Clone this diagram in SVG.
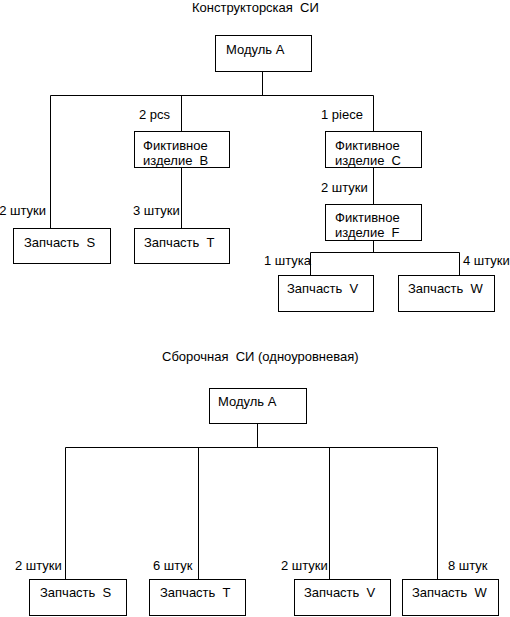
<svg xmlns="http://www.w3.org/2000/svg" width="510" height="617" viewBox="0 0 510 617">
<style>
text{font-family:"Liberation Sans",Arial,sans-serif;font-size:13px;fill:#000;white-space:pre}
.box{fill:#fff;stroke:#000;stroke-width:1}
.ln{fill:none;stroke:#000;stroke-width:1}
</style>
<rect width="510" height="617" fill="#fff"/>
<text x="192" y="12">Конструкторская  СИ</text>
<text x="162" y="361">Сборочная  СИ (одноуровневая)</text>
<g id="connectors">
<path class="ln" d="M262.5 71.5V95.5M50.5 95.5H373.5M50.5 95.5V228.5M181.5 95.5V131.5M181.5 167.5V228.5M373.5 95.5V131.5M373.5 167.5V204.5M373.5 240.5V252.5M310.5 252.5H459.5M310.5 252.5V275.5M459.5 252.5V275.5"/>
<path class="ln" d="M257.5 423.5V447.5M65.5 447.5H437.5M65.5 447.5V579.5M198.5 447.5V579.5M329.5 447.5V579.5M437.5 447.5V579.5"/>
<text x="139" y="119">2 pcs</text>
<text x="321" y="119">1 piece</text>
<text x="46" y="215" text-anchor="end">2 штуки</text>
<text x="133" y="215">3 штуки</text>
<text x="321" y="192">2 штуки</text>
<text x="264" y="265">1 штука</text>
<text x="463" y="265">4 штуки</text>
<text x="15" y="570">2 штуки</text>
<text x="153" y="570">6 штук</text>
<text x="281" y="570">2 штуки</text>
<text x="448" y="570">8 штук</text>
</g>
<g id="top-module-a"><rect class="box" x="215.5" y="35.5" width="96" height="36"/><text x="226" y="54">Модуль А</text></g>
<g id="top-b"><rect class="box" x="134.5" y="131.5" width="95" height="36"/><text x="143" y="150">Фиктивное</text><text x="143" y="164.5">изделие  В</text></g>
<g id="top-c"><rect class="box" x="325.5" y="131.5" width="96" height="36"/><text x="335" y="150">Фиктивное</text><text x="335" y="164.5">изделие  С</text></g>
<g id="top-f"><rect class="box" x="325.5" y="204.5" width="96" height="36"/><text x="335" y="222">Фиктивное</text><text x="335" y="236.5">изделие  F</text></g>
<g id="top-s"><rect class="box" x="13.5" y="228.5" width="97" height="35"/><text x="24" y="247">Запчасть  S</text></g>
<g id="top-t"><rect class="box" x="134.5" y="228.5" width="95" height="35"/><text x="144" y="247">Запчасть  T</text></g>
<g id="top-v"><rect class="box" x="278.5" y="275.5" width="95" height="36"/><text x="287" y="293">Запчасть  V</text></g>
<g id="top-w"><rect class="box" x="398.5" y="275.5" width="96" height="36"/><text x="408" y="293">Запчасть  W</text></g>
<g id="bot-module-a"><rect class="box" x="209.5" y="388.5" width="97" height="35"/><text x="218" y="406">Модуль А</text></g>
<g id="bot-s"><rect class="box" x="29.5" y="579.5" width="97" height="36"/><text x="40" y="597">Запчасть  S</text></g>
<g id="bot-t"><rect class="box" x="149.5" y="579.5" width="96" height="36"/><text x="160" y="597">Запчасть  T</text></g>
<g id="bot-v"><rect class="box" x="294.5" y="579.5" width="96" height="36"/><text x="304" y="597">Запчасть  V</text></g>
<g id="bot-w"><rect class="box" x="402.5" y="579.5" width="96" height="36"/><text x="412" y="597">Запчасть  W</text></g>
</svg>
